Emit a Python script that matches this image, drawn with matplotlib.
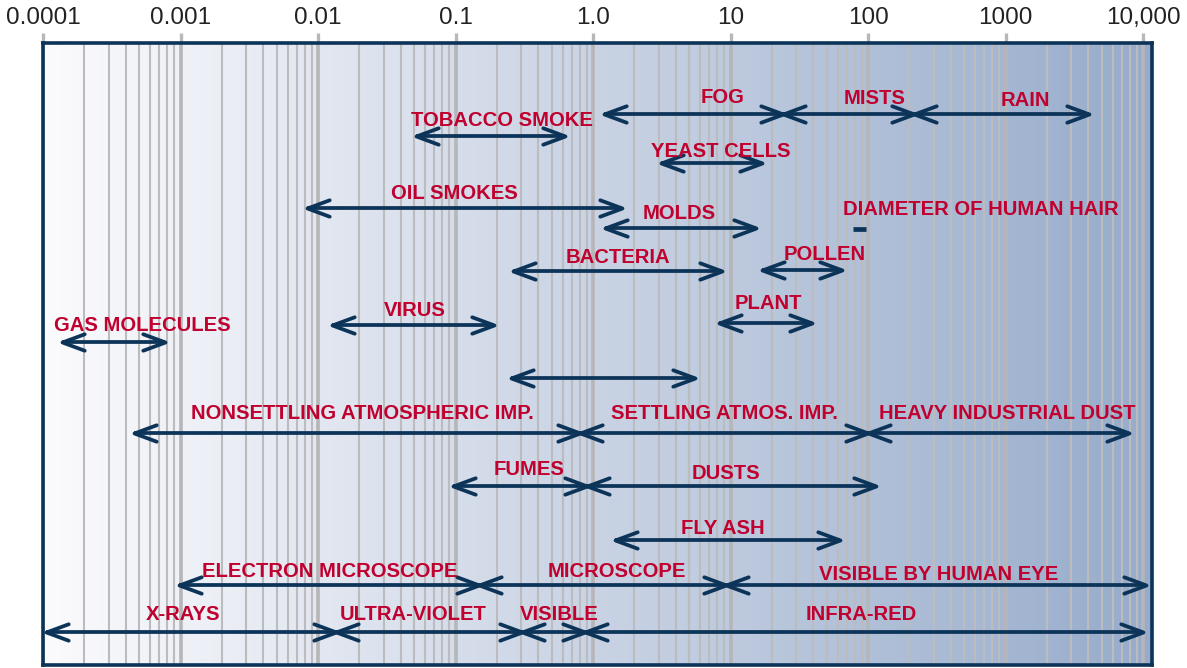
import matplotlib.pyplot as plt
import numpy as np
from matplotlib.path import Path
from matplotlib.markers import MarkerStyle
from matplotlib.colors import LinearSegmentedColormap
from matplotlib.ticker import FixedLocator, LogLocator, NullFormatter

# particle size ranges, microns
names = ["FOG", "MISTS", "RAIN", "TOBACCO SMOKE", "YEAST CELLS", "OIL SMOKES",
         "MOLDS", "BACTERIA", "POLLEN", "PLANT", "VIRUS", "GAS MOLECULES", "",
         "NONSETTLING ATMOSPHERIC IMP.", "SETTLING ATMOS. IMP.", "HEAVY INDUSTRIAL DUST",
         "FUMES", "DUSTS", "FLY ASH", "ELECTRON MICROSCOPE", "MICROSCOPE",
         "VISIBLE BY HUMAN EYE", "X-RAYS", "ULTRA-VIOLET", "VISIBLE", "INFRA-RED"]
size_min = [1.2, 24, 215, 0.052, 3.1, 0.0083, 1.22, 0.26, 17, 8.2, 0.0127, 1.37e-4, 0.255,
            4.6e-4, 0.8, 100, 0.096, 0.9, 1.45, 9.75e-4, 0.148, 9.3, 1.05e-4, 0.0135, 0.305, 0.875]
size_max = [24, 215, 4050, 0.625, 16.9, 1.63, 15.3, 8.7, 65, 39, 0.19, 7.7e-4, 5.5,
            0.8, 100, 7900, 0.9, 114, 62.5, 0.148, 9.3, 10500, 0.0135, 0.305, 0.875, 10000]
label_at = [8.7, 112, 1390, 0.218, 8.5, 0.0975, 4.2, 1.52, 48, 19, 0.0507, 5.25e-4, None,
            0.0209, 9.0, 1025, 0.343, 9.3, 8.8, 0.0122, 1.5, 328, 1.04e-3, 0.049, 0.566, 89]

hair_min, hair_max = 78, 97
hair_label_at = 664

tick_vals = [1e-4, 1e-3, 1e-2, 1e-1, 1, 10, 100, 1000, 10000]
tick_labels = ["0.0001", "0.001", "0.01", "0.1", "1.0", "10", "100", "1000", "10,000"]

# layout: rows measured down from the top of the figure
arrow_row = [114, 114, 114, 136, 163, 208, 228, 271, 270, 323, 325, 342, 378,
             433, 433, 433, 486, 486, 540, 585, 585, 585, 632, 632, 632, 632]
label_row = [103, 104, 106, 126, 157, 199, 219, 263, 260, 309, 316, 331, None,
             419, 419, 419, 475, 479, 534, 577, 577, 580, 620, 620, 620, 620]
hair_row, hair_label_row = 229, 215

navy = "#0c3358"
red = "#c0002e"

# open chevron heads, tip at the marker position
head_r = MarkerStyle(Path([(-1, 0.37), (0, 0), (-1, -0.37)]), joinstyle="round", capstyle="round")
head_l = MarkerStyle(Path([(1, 0.37), (0, 0), (1, -0.37)]), joinstyle="round", capstyle="round")

fig = plt.figure(figsize=(11.87, 6.68), dpi=100)
ax = fig.add_axes([43 / 1187, 3 / 668, 1109 / 1187, 622 / 668])
ax.set_xscale("log")
ax.set_xlim(1e-4, 10 ** 4.065)
ax.set_ylim(665, 43)

# background gradient
cmap = LinearSegmentedColormap.from_list("bg", ["#fbfbfd", "#c9d3e4", "#97accb"])
ax.imshow(np.linspace(0, 1, 256).reshape(1, -1), extent=[0, 1, 0, 1], transform=ax.transAxes,
          cmap=cmap, aspect="auto", zorder=0)

ax.xaxis.set_major_locator(FixedLocator(tick_vals))
ax.set_xticklabels(tick_labels)
ax.xaxis.set_minor_locator(LogLocator(base=10, subs=np.arange(2, 10), numticks=20))
ax.xaxis.set_minor_formatter(NullFormatter())
ax.xaxis.tick_top()
ax.tick_params(axis="x", which="major", length=7, width=2.4, color="#b8b8b8",
               labelsize=17.5, labelcolor="#222222", pad=3)
ax.tick_params(axis="x", which="minor", length=0)
for lab in ax.get_xticklabels():
    lab.set_fontfamily("Liberation Sans")
ax.set_yticks([])
ax.grid(which="minor", axis="x", color="#bcbcbe", lw=1.5, zorder=1)
ax.grid(which="major", axis="x", color="#b6b6b8", lw=2.6, zorder=1)
for s in ax.spines.values():
    s.set_color(navy)
    s.set_linewidth(2.6)
    s.set_zorder(5)

lw = 2.7
for i, name in enumerate(names):
    y = arrow_row[i]
    ax.plot([size_min[i], size_max[i]], [y, y], color=navy, lw=lw, solid_capstyle="butt", zorder=3)
    ax.plot([size_min[i]], [y], marker=head_l, ms=32, mfc="none", mec=navy, mew=lw, zorder=3)
    ax.plot([size_max[i]], [y], marker=head_r, ms=32, mfc="none", mec=navy, mew=lw, zorder=3)
    if name:
        ax.text(label_at[i], label_row[i], name, ha="center", va="baseline",
                fontsize=14.6, fontweight="bold", family="Liberation Sans", color=red, zorder=4)

ax.plot([hair_min, hair_max], [hair_row, hair_row], color=navy, lw=3.4, solid_capstyle="butt", zorder=3)
ax.text(hair_label_at, hair_label_row, "DIAMETER OF HUMAN HAIR", ha="center", va="baseline",
        fontsize=14.6, fontweight="bold", family="Liberation Sans", color=red, zorder=4)

fig.savefig("out.png", dpi=100)
